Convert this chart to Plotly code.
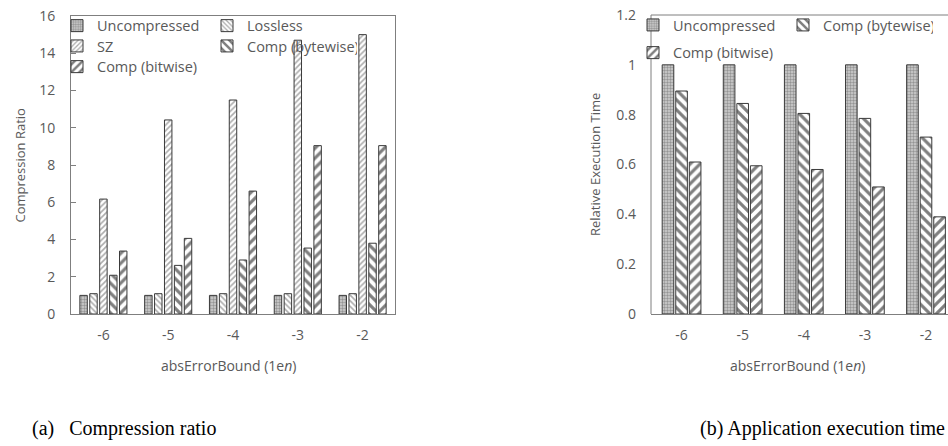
import plotly.graph_objects as go

# ---------------- data ----------------
categories = ["-6", "-5", "-4", "-3", "-2"]

# (a) compression ratio
ratio_uncompressed = [1.0, 1.0, 1.0, 1.0, 1.0]
ratio_lossless = [1.09, 1.09, 1.09, 1.09, 1.09]
ratio_sz = [6.17, 10.42, 11.49, 14.7, 15.0]
ratio_bytewise = [2.08, 2.61, 2.9, 3.54, 3.8]
ratio_bitwise = [3.38, 4.06, 6.6, 9.04, 9.04]

# (b) relative execution time
time_uncompressed = [1.0, 1.0, 1.0, 1.0, 1.0]
time_bytewise = [0.895, 0.845, 0.805, 0.785, 0.71]
time_bitwise = [0.61, 0.595, 0.58, 0.51, 0.39]

ratio_ticks = [0, 2, 4, 6, 8, 10, 12, 14, 16]
time_ticks = [0, 0.2, 0.4, 0.6, 0.8, 1.0, 1.2]

# ---------------- styling ----------------
W, H = 948, 446
FONT = "Open Sans"
GRAY_TXT = "#595959"
LINE = "#7f7f7f"
EDGE = dict(color="#3a3a3a", width=1)

styles = {
    "Uncompressed": dict(shape=".", fgcolor="#5a5a5a", bgcolor="#d0d0d0", size=3, solidity=0.5),
    "Lossless": dict(shape="\\", fgcolor="#5a5a5a", bgcolor="white", size=4, solidity=0.4),
    "SZ": dict(shape="/", fgcolor="#5a5a5a", bgcolor="white", size=4, solidity=0.4),
    "Comp (bytewise)": dict(shape="\\", fgcolor="black", bgcolor="white", size=7, solidity=0.45),
    "Comp (bitwise)": dict(shape="/", fgcolor="black", bgcolor="white", size=7, solidity=0.45),
}


def px_x(p):
    return p / W


def px_y(p):
    return 1 - p / H


fig = go.Figure()

# left chart: 5 bars per group
left_series = [
    ("Uncompressed", ratio_uncompressed, "legend"),
    ("Lossless", ratio_lossless, "legend"),
    ("SZ", ratio_sz, "legend2"),
    ("Comp (bytewise)", ratio_bytewise, "legend2"),
    ("Comp (bitwise)", ratio_bitwise, "legend3"),
]
pitch_l, width_l = 0.153, 0.115
for i, (name, vals, lg) in enumerate(left_series):
    fig.add_trace(go.Bar(
        x=list(range(len(categories))), y=vals, name=name,
        xaxis="x", yaxis="y", legend=lg,
        width=width_l, offset=(i - 2) * pitch_l - width_l / 2,
        marker=dict(color="white", pattern=styles[name], line=EDGE),
    ))

# right chart: 3 bars per group
right_series = [
    ("Uncompressed", time_uncompressed, "legend4"),
    ("Comp (bytewise)", time_bytewise, "legend4"),
    ("Comp (bitwise)", time_bitwise, "legend5"),
]
pitch_r, width_r = 0.222, 0.19
for i, (name, vals, lg) in enumerate(right_series):
    fig.add_trace(go.Bar(
        x=list(range(len(categories))), y=vals, name=name,
        xaxis="x2", yaxis="y2", legend=lg,
        width=width_r, offset=(i - 1) * pitch_r - width_r / 2,
        marker=dict(color="white", pattern=styles[name], line=EDGE),
    ))

tickfont = dict(family=FONT, size=14, color=GRAY_TXT)

fig.update_layout(
    width=W, height=H,
    margin=dict(l=0, r=0, t=0, b=0, autoexpand=False),
    paper_bgcolor="white", plot_bgcolor="white",
    barmode="overlay",
    font=dict(family=FONT, color=GRAY_TXT),
    xaxis=dict(
        domain=[px_x(71), px_x(395)], range=[-0.5, 4.5],
        tickmode="array", tickvals=list(range(len(categories))), ticktext=categories,
        showline=True, linecolor=LINE, linewidth=1, mirror=True,
        showgrid=False, zeroline=False, ticks="", tickfont=tickfont,
        ticklabelstandoff=8, fixedrange=True,
    ),
    yaxis=dict(
        domain=[px_y(314), px_y(16)], range=[0, 16],
        tickmode="array", tickvals=ratio_ticks,
        showline=True, linecolor=LINE, linewidth=1, mirror=True,
        showgrid=False, zeroline=False, ticks="inside", ticklen=5, tickcolor=LINE,
        tickfont=tickfont, ticklabelstandoff=12, fixedrange=True,
    ),
    xaxis2=dict(
        domain=[px_x(651), 1.0], range=[-0.5, 4.36], anchor="y2",
        tickmode="array", tickvals=list(range(len(categories))), ticktext=categories,
        showline=True, linecolor=LINE, linewidth=1, mirror=False,
        showgrid=False, zeroline=False, ticks="", tickfont=tickfont,
        ticklabelstandoff=8, fixedrange=True,
    ),
    yaxis2=dict(
        domain=[px_y(314), px_y(15)], range=[0, 1.2], anchor="x2",
        tickmode="array", tickvals=time_ticks,
        showline=False,
        showgrid=False, zeroline=False, ticks="",
        tickfont=tickfont, ticklabelstandoff=14, fixedrange=True,
    ),
)

# frame of the right panel: top and left edges (its right side lies outside the picture)
fig.add_shape(type="line", xref="x2 domain", yref="y2 domain", x0=0, x1=1.05, y0=1, y1=1,
              line=dict(color=LINE, width=1), layer="above")
fig.add_shape(type="line", xref="x2 domain", yref="y2 domain", x0=0, x1=0, y0=0, y1=1,
              line=dict(color=LINE, width=1), layer="above")

legend_common = dict(
    orientation="h", xanchor="left", yanchor="middle",
    bgcolor="rgba(0,0,0,0)", borderwidth=0,
    font=dict(family=FONT, size=14.5, color=GRAY_TXT),
    entrywidth=105, entrywidthmode="pixels", itemclick=False, itemdoubleclick=False,
    tracegroupgap=0,
)
fig.update_layout(
    legend=dict(x=px_x(57), y=px_y(25.7), **legend_common),
    legend2=dict(x=px_x(57), y=px_y(46), **legend_common),
    legend3=dict(x=px_x(57), y=px_y(66.7), **legend_common),
    legend4=dict(x=px_x(633), y=px_y(25), **legend_common),
    legend5=dict(x=px_x(633), y=px_y(52.7), **legend_common),
)

annos = [
    dict(text="Compression Ratio", x=px_x(19.5), y=px_y(165), textangle=-90, font=dict(size=13)),
    dict(text="Relative Execution Time", x=px_x(595), y=px_y(165), textangle=-90, font=dict(size=13)),
    dict(text="absErrorBound (1e<i>n</i>)", x=px_x(228), y=px_y(365), font=dict(size=14)),
    dict(text="absErrorBound (1e<i>n</i>)", x=px_x(797), y=px_y(365), font=dict(size=14)),
    dict(text="(a)&nbsp;&nbsp;&nbsp;Compression ratio", x=px_x(30), y=px_y(428), xanchor="left",
         font=dict(family="Liberation Serif", size=20, color="black")),
    dict(text="(b) Application execution time", x=px_x(698), y=px_y(428), xanchor="left",
         font=dict(family="Liberation Serif", size=20, color="black")),
]
for a in annos:
    base = dict(xref="paper", yref="paper", showarrow=False, xanchor="center", yanchor="middle")
    base.update(a)
    f = dict(family=FONT, color=GRAY_TXT)
    f.update(a.get("font", {}))
    base["font"] = f
    fig.add_annotation(**base)

fig.write_html(
    "out.html",
    config={"displayModeBar": False, "staticPlot": True},
    post_script="document.body.style.margin='0px';document.body.style.overflow='hidden';",
)
